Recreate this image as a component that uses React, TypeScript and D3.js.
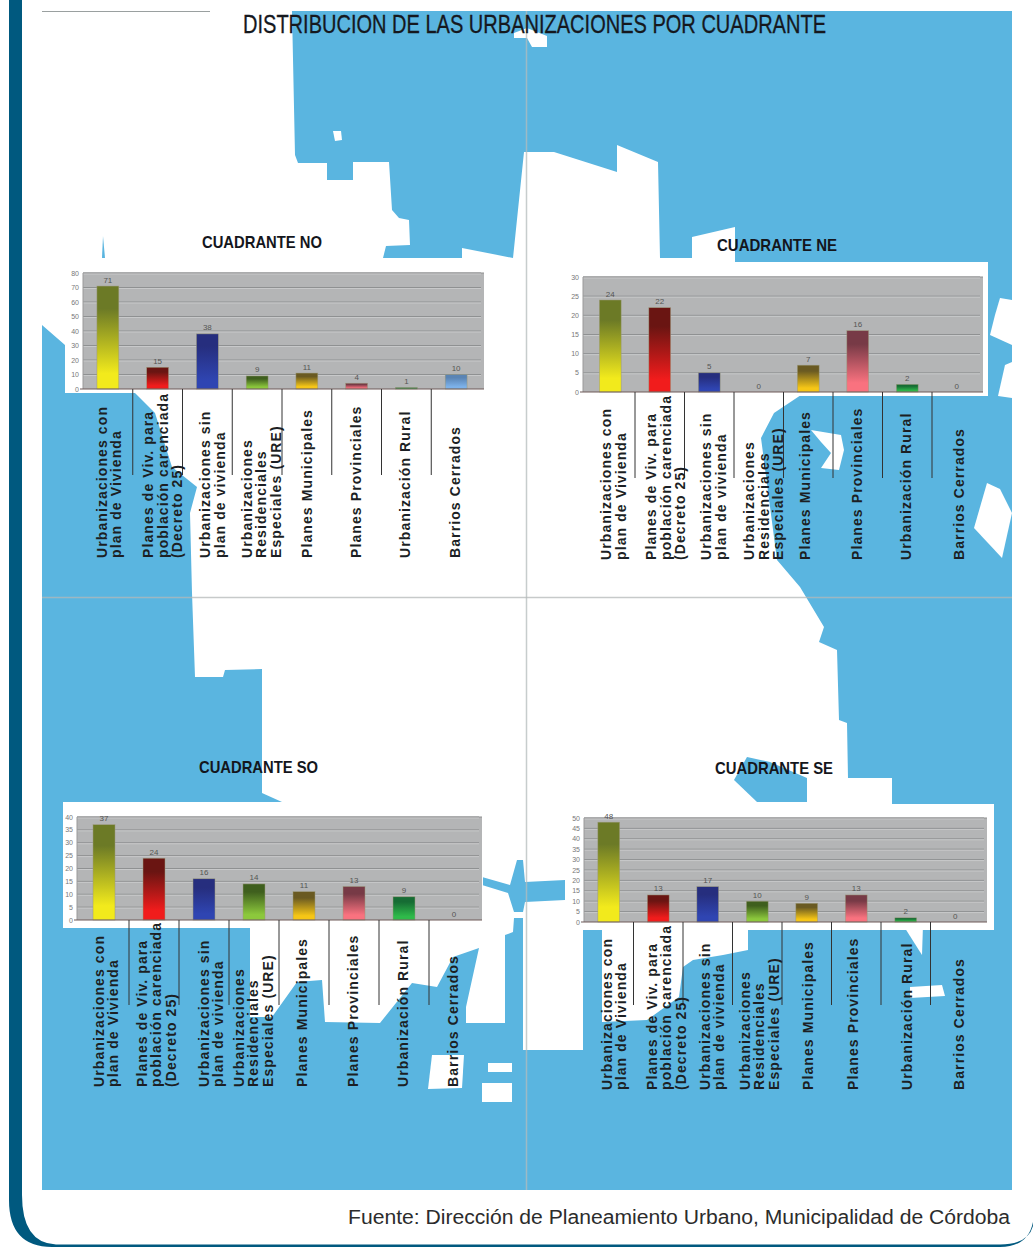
import React from "react";
import * as d3 from "d3";

// Category labels, one entry per rotated text line.
const categories = [
  ["Urbanizaciones con", "plan de Vivienda"],
  ["Planes de Viv. para", "población carenciada", "(Decreto 25)"],
  ["Urbanizaciones sin", "plan de vivienda"],
  ["Urbanizaciones", "Residenciales", "Especiales (URE)"],
  ["Planes Municipales"],
  ["Planes Provinciales"],
  ["Urbanización Rural"],
  ["Barrios Cerrados"],
];

// Urbanisations per category in each quadrant.
const valuesNO = [71, 15, 38, 9, 11, 4, 1, 10];
const valuesNE = [24, 22, 5, 0, 7, 16, 2, 0];
const valuesSO = [37, 24, 16, 14, 11, 13, 9, 0];
const valuesSE = [48, 13, 17, 10, 9, 13, 2, 0];

const ticksNO = [0, 10, 20, 30, 40, 50, 60, 70, 80];
const ticksNE = [0, 5, 10, 15, 20, 25, 30];
const ticksSO = [0, 5, 10, 15, 20, 25, 30, 35, 40];
const ticksSE = [0, 5, 10, 15, 20, 25, 30, 35, 40, 45, 50];

// Bar gradient stops, top then bottom, by category.
const barTop = ["#6c7a26", "#6a1512", "#262e7e", "#3f5f1e", "#6a5a22", "#773a46", "#166c34", "#5a84b4"];
const barBottom = ["#f2ea1c", "#f11c1c", "#2f45b2", "#8cc83c", "#f6c616", "#f9727f", "#2fba4a", "#7db2ea"];

const BLUE = "#5ab5e0";
const FRAME = "#00597f";

// Land outlines behind the charts, in page pixels.
type Pt = [number, number];
const whiteLand: Pt[][] = [
  [
    [41, 11], [292, 11], [295, 155], [298, 163], [327, 163], [327, 180], [353, 180], [353, 162], [389, 162],
    [392, 210], [399, 218], [409, 220], [410, 245], [386, 246], [383, 258], [462, 258], [462, 248], [513, 258],
    [524, 152], [554, 152], [617, 172], [617, 145], [658, 162], [660, 258], [692, 258], [692, 237], [735, 227],
    [735, 262], [804, 262], [804, 393], [774, 413], [761, 438], [777, 560], [800, 587], [824, 627], [819, 642],
    [837, 650], [839, 720], [847, 723], [848, 778], [892, 778], [892, 928], [583, 928], [583, 1050], [523, 1050],
    [523, 918], [514, 918], [513, 932], [505, 935], [505, 1023], [466, 1023], [466, 1007], [479, 948], [453, 957],
    [437, 987], [412, 983], [380, 1023], [325, 1022], [322, 980], [297, 982], [272, 1017], [250, 1017], [250, 928],
    [63, 928], [63, 802], [282, 802], [262, 793], [262, 669], [225, 670], [223, 677], [195, 677], [192, 593],
    [190, 513], [197, 487], [172, 467], [155, 413], [135, 393], [65, 393], [65, 345], [42, 325],
  ],
  [[602, 928], [748, 928], [748, 950], [723, 955], [693, 960], [683, 967], [679, 997], [647, 1020], [602, 1022]],
  [[514, 33], [527, 28], [547, 36], [547, 47], [532, 47], [527, 38], [514, 38]],
  [[333, 131], [341, 131], [342, 140], [335, 141]],
  [[811, 430], [841, 435], [844, 450], [839, 470], [821, 468], [831, 453], [821, 442]],
  [[987, 483], [1000, 489], [1012, 513], [1002, 558], [974, 528]],
  [[1000, 298], [1012, 300], [1012, 345], [990, 335], [995, 315]],
  [[1005, 365], [1012, 362], [1012, 398], [998, 396]],
  [[903, 925], [923, 925], [922, 955]],
  [[910, 987], [942, 985], [945, 996], [910, 998]],
  [[432, 1055], [464, 1055], [462, 1088], [428, 1089]],
  [[488, 1063], [512, 1063], [512, 1072], [488, 1072]],
  [[482, 1083], [512, 1083], [512, 1102], [482, 1102]],
];
const blueLand: Pt[][] = [
  [[734, 780], [747, 757], [770, 762], [807, 778], [807, 802], [757, 802]],
  [
    [482, 877], [510, 885], [517, 860], [523, 860], [525, 882], [565, 880], [565, 900], [525, 902], [523, 912],
    [514, 912], [508, 893], [482, 885],
  ],
  [[102, 258], [103, 236], [105, 258]],
];

// Plot placement of each quadrant's small chart.
const quadrants = [
  {
    id: "no", title: "CUADRANTE NO", values: valuesNO, ticks: ticksNO,
    titleX: [202, 322], titleY: 248,
    panel: [65, 258, 490, 393], plot: [83, 273, 484, 389], band: [83, 481],
    dividerEnd: 475, labelBase: 558, labelShift: [1, 5, 5, 4, 0, -1, -1, -1],
  },
  {
    id: "ne", title: "CUADRANTE NE", values: valuesNE, ticks: ticksNE,
    titleX: [717, 837], titleY: 251,
    panel: [563, 262, 988, 396], plot: [583, 277, 983, 392], band: [585.5, 981.5],
    dividerEnd: 478, labelBase: 560, labelShift: [3, 6, 4, 5, -3, -1, -1, 2],
  },
  {
    id: "so", title: "CUADRANTE SO", values: valuesSO, ticks: ticksSO,
    titleX: [199, 318], titleY: 773,
    panel: [63, 802, 483, 926], plot: [77, 817, 482, 920], band: [79, 479],
    dividerEnd: 1005, labelBase: 1087, labelShift: [2, 2, 7, -1, -2, -1, -1, -1],
  },
  {
    id: "se", title: "CUADRANTE SE", values: valuesSE, ticks: ticksSE,
    titleX: [715, 833], titleY: 774,
    panel: [565, 804, 994, 930], plot: [584, 818, 987, 922], band: [584, 980],
    dividerEnd: 1005, labelBase: 1090, labelShift: [5, 8, 4, 2, 1, -3, 1, 4],
  },
];

const SANS = "'Liberation Sans', Arial, sans-serif";
const closedLine = (pts: Pt[]) => (d3.line()(pts) || "") + "Z";

function QuadrantChart({ q }: { q: (typeof quadrants)[number] }) {
  const [px0, py0, px1, py1] = q.panel;
  const [l, t, r, b] = q.plot;
  const x = d3.scaleBand<number>().domain(d3.range(categories.length)).range(q.band as [number, number])
    .paddingInner(0.56).paddingOuter(0.28);
  const y = d3.scaleLinear().domain([0, q.ticks[q.ticks.length - 1]]).range([b, t]);
  const step = x.step();
  return (
    <g>
      <rect x={px0} y={py0} width={px1 - px0} height={py1 - py0} fill="#fff" />
      <rect x={l} y={t} width={r - l} height={b - t} fill="#b4b5b6" />
      <line x1={l} x2={r} y1={t} y2={t} stroke="#8f9090" strokeWidth={1} />
      {q.ticks.filter((v) => v > 0).map((v) => (
        <g key={v}>
          <line x1={l} x2={r - 3} y1={y(v)} y2={y(v)} stroke="#8f9192" strokeWidth={1} />
          <line x1={l} x2={r - 3} y1={y(v) + 1} y2={y(v) + 1} stroke="#c8c9ca" strokeWidth={1} />
        </g>
      ))}
      {q.ticks.map((v) => (
        <text key={v} x={l - 4} y={y(v) + 2.5} textAnchor="end" fontFamily={SANS} fontSize={7} fill="#777">{v}</text>
      ))}
      <line x1={l} x2={l} y1={t} y2={b} stroke="#9a9a9a" />
      {q.values.map((v, i) => (
        <g key={i}>
          {v > 0 && (
            <rect x={x(i)} y={y(v)} width={x.bandwidth()} height={b - y(v)} fill={`url(#bar${i})`}
              stroke="#9b9a7c" strokeWidth={0.5} />
          )}
          <text x={(x(i) as number) + x.bandwidth() / 2} y={y(v) - 3.5} textAnchor="middle"
            fontFamily={SANS} fontSize={8} fill="#555">{v}</text>
        </g>
      ))}
      <line x1={l - 3} x2={r} y1={b} y2={b} stroke="#6e5a58" strokeWidth={1.2} />
      {d3.range(1, categories.length).map((i) => {
        const dx = q.band[0] + i * step;
        return <line key={i} x1={dx} x2={dx} y1={b} y2={q.dividerEnd} stroke="#333" strokeWidth={1} />;
      })}
      {categories.map((lines, i) => {
        const cx = (x(i) as number) + x.bandwidth() / 2 + q.labelShift[i];
        const pitch = 14.5;
        return lines.map((line, j) => {
          const lx = cx + (j - (lines.length - 1) / 2) * pitch + 5;
          return (
            <text key={j} transform={`translate(${lx},${q.labelBase}) rotate(-90)`} fontFamily={SANS}
              fontSize={14} fontWeight={700} letterSpacing={1.1} fill="#1c1f24">{line}</text>
          );
        });
      })}
      <text x={q.titleX[0]} y={q.titleY} fontFamily={SANS} fontSize={17} fontWeight={700} fill="#14161c"
        textLength={q.titleX[1] - q.titleX[0]} lengthAdjust="spacingAndGlyphs">{q.title}</text>
    </g>
  );
}

export default function App() {
  return (
    <svg width={1034} height={1248} style={{ position: "absolute", left: 0, top: 0, background: "#fff" }}>
      <defs>
        {barTop.map((c, i) => (
          <linearGradient key={i} id={`bar${i}`} x1="0" y1="0" x2="0" y2="1">
            <stop offset="0" stopColor={c} />
            <stop offset="0.22" stopColor={c} />
            <stop offset="0.85" stopColor={barBottom[i]} />
            <stop offset="1" stopColor={barBottom[i]} />
          </linearGradient>
        ))}
      </defs>

      <path fill={FRAME} d="M9,0 L9,1200 Q9,1247 52,1247 L1000,1247 Q1028,1247 1033,1222 L1033,1226 Q1028,1244.5 1000,1244.5 L56,1244.5 Q22,1243 22,1195 L22,0 Z" />

      <rect x={42} y={11} width={970} height={1179} fill={BLUE} />
      {whiteLand.map((pts, i) => <path key={i} d={closedLine(pts)} fill="#fff" />)}
      {blueLand.map((pts, i) => <path key={i} d={closedLine(pts)} fill={BLUE} />)}

      <line x1={42} x2={210} y1={11.5} y2={11.5} stroke="#9aa0a0" strokeWidth={1} />
      <line x1={526.5} x2={526.5} y1={11} y2={1190} stroke="#b4bcbc" strokeOpacity={0.75} strokeWidth={1.5} />
      <line x1={42} x2={1012} y1={597.5} y2={597.5} stroke="#b4b8b8" strokeOpacity={0.75} strokeWidth={1.5} />

      {quadrants.map((q) => <QuadrantChart key={q.id} q={q} />)}

      <text x={243} y={33} fontFamily={SANS} fontSize={25} fill="#15181e" stroke="#15181e" strokeWidth={0.3}
        textLength={583} lengthAdjust="spacingAndGlyphs">DISTRIBUCION DE LAS URBANIZACIONES POR CUADRANTE</text>
      <text x={348} y={1224} fontFamily={SANS} fontSize={19.5} fill="#2c2c2c" textLength={662}
        lengthAdjust="spacingAndGlyphs">Fuente: Dirección de Planeamiento Urbano, Municipalidad de Córdoba</text>
    </svg>
  );
}
